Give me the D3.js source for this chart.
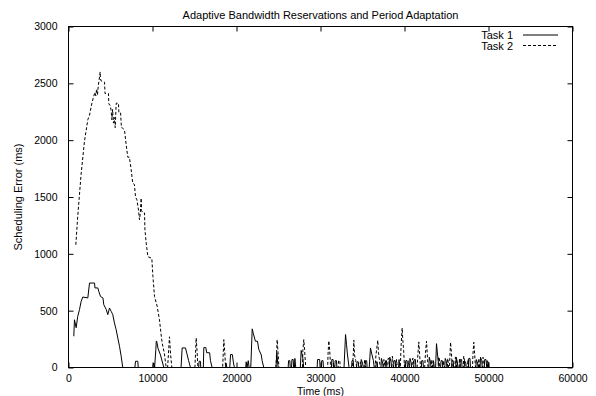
<!DOCTYPE html>
<html>
<head>
<meta charset="utf-8">
<script src="https://cdn.jsdelivr.net/npm/d3@7"></script>
<style>
  html, body { margin: 0; padding: 0; background: #fff; }
  svg { display: block; font-family: "Liberation Sans", Arial, Helvetica, sans-serif; }
</style>
</head>
<body>
<svg id="chart" width="596" height="396"></svg>
<script>
// Scheduling error traces, [time (ms), error (ms)]
const task1 = [
  [630,275],[710,420],[910,350],[1100,450],[1310,510],[1500,580],[1700,620],[2300,612],
  [2500,743],[3100,743],[3150,700],[3490,700],[3600,670],[3810,625],[4100,612],[4200,553],
  [4500,509],[4680,465],[4880,523],[5080,494],[5270,465],[5470,392],[5670,333],[5870,260],
  [6070,187],[6270,99],[6460,0],
  [7900,0],[7980,55],[8250,55],[8300,0],
  [10030,0],[10150,40],[10250,0],[10400,160],[10450,231],[10500,231],[10650,170],[10950,110],[11350,0],
  [13400,0],[13530,172],[13930,172],[14100,120],[14300,60],[14520,0],
  [15500,0],[15550,55],[15700,55],[15750,0],
  [16050,0],[16110,175],[16350,175],[16450,130],[16800,130],[16900,60],[17100,0],
  [18700,0],[18750,40],[18850,0],
  [19200,0],[19290,114],[19500,114],[19640,40],[19750,0],
  [21100,0],[21150,50],[21250,0],[21400,60],[21500,0],
  [21700,0],[21870,340],[22000,300],[22250,231],[22500,231],[22650,160],[22950,110],[23050,60],[23250,0],
  [24700,0],[24800,130],[24950,0],
  [26150,0],[26200,60],[26350,60],[26400,0],[26550,0],[26600,70],[26750,70],[26800,0],
  [26900,0],[26950,80],[27050,0],
  [27600,0],[27700,150],[27900,80],[28000,0],
  [29600,0],[29650,70],[29900,70],[29950,0],[30100,0],[30150,60],[30300,60],[30350,0],
  [31300,0],[31350,70],[31500,70],[31550,0],[31700,0],[31750,60],[31900,60],[31950,0],
  [32800,0],[32980,290],[33100,200],[33200,120],[33400,0],
  [33700,0],[33750,60],[33900,60],[33950,0],
  [34300,0],[34350,50],[34500,50],[34550,0],
  [34800,0],[34850,70],[35000,40],[35100,0],
  [35300,0],[35350,60],[35500,60],[35550,0],
  [35800,0],[35950,172],[36100,120],[36300,60],[36400,0],
  [36600,0],[36650,50],[36750,50],[36800,0],
  [37200,0],[37250,80],[37400,40],[37450,0],
  [37700,0],[37750,60],[37850,60],[37900,0],
  [38200,0],[38250,90],[38400,50],[38450,0],
  [38700,0],[38750,60],[38900,60],[38950,0],
  [39300,0],[39350,70],[39450,0],
  [40100,0],[40150,60],[40300,60],[40350,0],
  [40600,0],[40650,80],[40800,40],[40850,0],
  [41100,0],[41150,70],[41300,70],[41350,0],
  [42000,0],[42050,60],[42200,60],[42250,0],
  [42900,0],[42950,90],[43100,50],[43150,0],
  [43400,0],[43450,60],[43550,0],
  [43700,0],[43810,210],[43950,100],[44100,0],
  [44300,0],[44350,60],[44500,60],[44550,0],
  [44800,0],[44850,80],[45000,50],[45050,0],
  [45600,0],[45650,60],[45800,60],[45850,0],
  [46100,0],[46150,90],[46300,50],[46350,0],
  [46600,0],[46650,70],[46800,70],[46850,0],
  [47100,0],[47150,60],[47300,40],[47350,0],
  [47600,0],[47650,80],[47800,80],[47850,0],
  [48500,0],[48550,70],[48700,40],[48750,0],
  [49000,0],[49050,90],[49200,60],[49250,0],
  [49500,0],[49550,70],[49700,70],[49800,0],
  [49900,0],[49950,50],[50040,0]
];

const task2 = [
  [870,1080],[1100,1330],[1500,1700],[1900,1990],[2300,2180],[2500,2220],[2800,2330],[3000,2386],
  [3150,2420],[3250,2390],[3350,2450],[3450,2400],[3550,2480],[3700,2560],[3770,2600],[3800,2540],
  [3900,2520],[4290,2510],[4350,2410],[4760,2410],[4800,2320],[5000,2300],[5100,2240],[5160,2180],
  [5250,2270],[5350,2150],[5450,2200],[5560,2110],[5680,2325],[5950,2325],[6000,2240],[6200,2240],
  [6300,2110],[6460,2105],[6670,2090],[6800,2000],[7060,1850],[7250,1850],[7460,1740],[7650,1620],
  [7850,1610],[7980,1500],[8150,1475],[8330,1385],[8450,1300],[8550,1360],[8650,1490],[8700,1380],
  [8850,1360],[9050,1360],[9100,1210],[9250,1095],[9450,975],[9920,960],[10050,800],[10240,625],
  [10550,540],[10830,420],[11000,305],[11150,215],[11400,130],[11630,0],
  [11800,0],[12020,270],[12150,120],[12300,0],
  [15050,0],[15200,260],[15300,150],[15400,0],
  [18350,0],[18490,245],[18600,140],[18700,0],
  [24700,0],[24840,245],[24950,130],[25050,0],
  [27850,0],[27900,150],[28010,245],[28100,160],[28150,100],[28250,0],
  [30850,0],[30900,120],[30990,235],[31100,150],[31200,0],
  [31500,0],[31550,40],[31650,0],
  [32100,0],[32150,60],[32300,60],[32350,0],
  [33800,0],[33900,110],[33970,240],[34050,110],[34200,60],[34300,0],
  [34700,0],[34750,50],[34900,0],
  [35200,0],[35250,70],[35400,0],
  [36500,0],[36600,110],[36820,240],[36900,130],[37000,80],[37100,0],
  [37500,0],[37550,70],[37700,0],
  [38000,0],[38050,80],[38150,80],[38200,0],
  [38500,0],[38550,100],[38650,50],[38700,0],
  [39000,0],[39050,70],[39150,0],
  [39500,0],[39600,200],[39720,348],[39800,240],[39900,150],[40000,0],
  [40400,0],[40450,60],[40550,0],
  [40900,0],[40950,80],[41050,80],[41100,0],
  [41500,0],[41600,120],[41700,225],[41800,120],[41900,0],
  [42400,0],[42500,130],[42620,231],[42700,130],[42800,0],
  [43200,0],[43250,70],[43350,0],
  [44000,0],[44050,90],[44150,90],[44200,0],
  [44600,0],[44650,60],[44750,0],
  [45100,0],[45150,80],[45250,0],
  [45350,0],[45480,222],[45600,110],[45700,0],
  [46000,0],[46050,90],[46150,90],[46200,0],
  [46500,0],[46550,80],[46650,0],
  [47000,0],[47050,100],[47150,60],[47200,0],
  [47500,0],[47550,70],[47650,0],
  [48100,0],[48150,120],[48250,222],[48350,120],[48450,0],
  [48800,0],[48850,80],[48950,0],
  [49300,0],[49350,90],[49450,50],[49500,0],
  [49800,0],[49850,60],[49950,0]
];

const xTicks = [0, 10000, 20000, 30000, 40000, 50000, 60000];
const yTicks = [0, 500, 1000, 1500, 2000, 2500, 3000];
const seriesNames = ["Task 1", "Task 2"];
const titleText = "Adaptive Bandwidth Reservations and Period Adaptation";
const xLabel = "Time (ms)";
const yLabel = "Scheduling Error (ms)";

const svg = d3.select("#chart");
const m = { left: 68.5, right: 572.5, top: 26.5, bottom: 367.5 };

const x = d3.scaleLinear().domain([0, 60000]).range([m.left, m.right]);
const y = d3.scaleLinear().domain([0, 3000]).range([m.bottom, m.top]);

const fs = 11;
const tickFs = 10.5;
const tickLen = 5;

// inward ticks on all four sides
const axB = svg.append("g").attr("transform", `translate(0,${m.bottom})`)
  .call(d3.axisBottom(x).tickValues(xTicks).tickSize(-tickLen).tickPadding(7).tickFormat(d3.format("d")));
const axT = svg.append("g").attr("transform", `translate(0,${m.top})`)
  .call(d3.axisTop(x).tickValues(xTicks).tickSize(-tickLen).tickFormat(""));
const axL = svg.append("g").attr("transform", `translate(${m.left},0)`)
  .call(d3.axisLeft(y).tickValues(yTicks).tickSize(-tickLen).tickPadding(11).tickFormat(d3.format("d")));
const axR = svg.append("g").attr("transform", `translate(${m.right},0)`)
  .call(d3.axisRight(y).tickValues(yTicks).tickSize(-tickLen).tickFormat(""));

[axB, axT, axL, axR].forEach(g => {
  g.select(".domain").remove();
  g.selectAll(".tick line").attr("stroke", "#000");
  g.selectAll("text").attr("font-size", tickFs).attr("font-family", "Liberation Sans, Arial, sans-serif").attr("fill", "#000");
});

// plot border
svg.append("rect")
  .attr("x", m.left).attr("y", m.top)
  .attr("width", m.right - m.left).attr("height", m.bottom - m.top)
  .attr("fill", "none").attr("stroke", "#000").attr("stroke-width", 1);

const line = d3.line().x(d => x(d[0])).y(d => y(d[1]));

svg.append("path").datum(task1)
  .attr("d", line).attr("fill", "none").attr("stroke", "#000").attr("stroke-width", 1);
svg.append("path").datum(task2)
  .attr("d", line).attr("fill", "none").attr("stroke", "#000").attr("stroke-width", 1)
  .attr("stroke-dasharray", "3,2");

// title and axis labels
svg.append("text").attr("x", (m.left + m.right) / 2).attr("y", 19)
  .attr("text-anchor", "middle").attr("font-size", fs).text(titleText);
svg.append("text").attr("x", (m.left + m.right) / 2).attr("y", 394.5)
  .attr("text-anchor", "middle").attr("font-size", tickFs).text(xLabel);
svg.append("text").attr("transform", `translate(22,${(m.top + m.bottom) / 2}) rotate(-90)`)
  .attr("text-anchor", "middle").attr("font-size", fs).text(yLabel);

// legend
const legend = svg.append("g");
seriesNames.forEach((name, i) => {
  const ly = 35 + i * 10.5;
  legend.append("text").attr("x", 513).attr("y", ly + 4)
    .attr("text-anchor", "end").attr("font-size", fs).text(name);
  legend.append("line").attr("x1", 523).attr("x2", 558).attr("y1", ly).attr("y2", ly)
    .attr("stroke", "#000").attr("stroke-width", 1)
    .attr("stroke-dasharray", i === 1 ? "3,2" : null);
});
</script>
</body>
</html>
